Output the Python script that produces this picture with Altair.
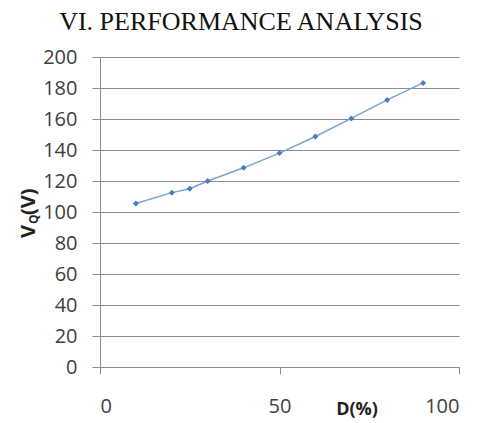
import altair as alt
import pandas as pd

duty = [10, 20, 25, 30, 40, 50, 60, 70, 80, 90]
vq = [105.5, 112.5, 115, 120, 128.5, 138, 148.7, 160.4, 172.3, 183.3]
y_ticks = list(range(0, 201, 20))
x_ticks = [0, 50, 100]

df = pd.DataFrame({"D": duty, "V": vq})
one = pd.DataFrame({"a": [0]})

W, H = 359, 310
grid_c = "#8c8c8c"

x_enc = alt.X("D:Q", scale=alt.Scale(domain=[0, 100], nice=False),
              axis=alt.Axis(values=x_ticks, title=None, grid=False, tickSize=7,
                            labelPadding=22, labelFontSize=20, labelFont="Open Sans",
                            labelColor="#404040", labelOverlap=False,
                            domainColor=grid_c, tickColor=grid_c))
y_enc = alt.Y("V:Q", scale=alt.Scale(domain=[0, 200], nice=False),
              axis=alt.Axis(values=y_ticks, title=None, grid=True, gridColor=grid_c,
                            tickSize=8, labelPadding=15, labelFontSize=20,
                            labelFont="Open Sans", labelColor="#404040",
                            labelOverlap=False,
                            domainColor=grid_c, tickColor=grid_c))

line = alt.Chart(df).mark_line(color="#79a3d6", strokeWidth=1.5).encode(x=x_enc, y=y_enc)
pts = alt.Chart(df).mark_point(shape="diamond", filled=True, size=36, color="#4a7ebb",
                               opacity=1).encode(x=x_enc, y=y_enc)

title = alt.Chart(one).mark_text(text="VI. PERFORMANCE ANALYSIS", font="Liberation Serif",
                                 fontSize=26, color="#111111", align="center",
                                 baseline="middle").encode(x=alt.value(141), y=alt.value(-35))

ytitle_v = alt.Chart(one).mark_text(text="V", font="Open Sans", fontWeight="bold",
                                    fontSize=20, angle=270, align="left",
                                    baseline="alphabetic", color="#222222").encode(
    x=alt.value(-65), y=alt.value(181))
ytitle_q = alt.Chart(one).mark_text(text="Q", font="Open Sans", fontWeight="bold",
                                    fontSize=12, angle=270, align="left",
                                    baseline="alphabetic", color="#222222").encode(
    x=alt.value(-62), y=alt.value(167))
ytitle_r = alt.Chart(one).mark_text(text="(V)", font="Open Sans", fontWeight="bold",
                                    fontSize=20, angle=270, align="left",
                                    baseline="alphabetic", color="#222222").encode(
    x=alt.value(-65), y=alt.value(158))

xtitle = alt.Chart(one).mark_text(text="D(%)", font="Open Sans", fontWeight="bold",
                                  fontSize=18, align="center", baseline="middle",
                                  color="#222222").encode(x=alt.value(257), y=alt.value(353))

chart = alt.layer(line, pts, title, ytitle_v, ytitle_q, ytitle_r, xtitle).properties(
    width=W, height=H,
    autosize=alt.AutoSizeParams(type="none"),
    padding={"left": 92, "top": 49, "right": 14, "bottom": 56},
    background="white",
).configure_view(stroke=None)

chart.save("out.html", embed_options={"renderer": "svg", "actions": False})
